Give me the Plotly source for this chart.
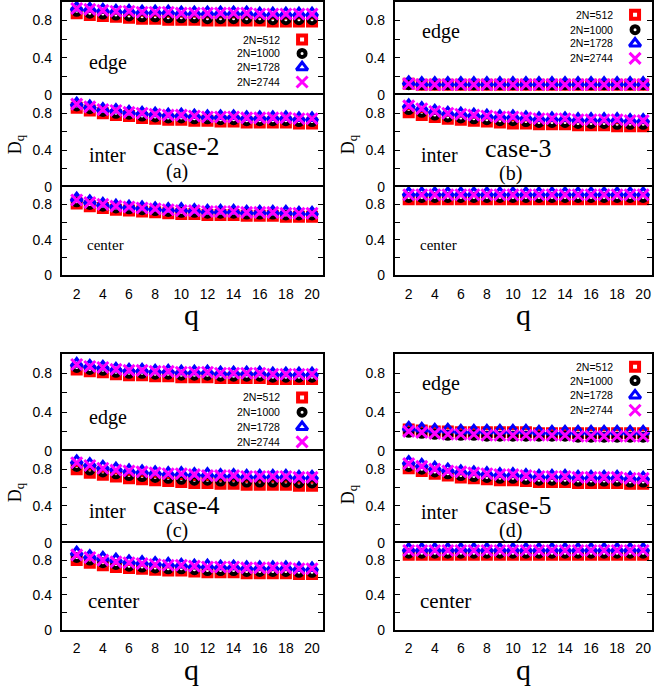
import plotly.graph_objects as go

W, H = 654, 696

# ---------------- data ----------------
q_values = list(range(2, 21))
size_labels = ["2N=512", "2N=1000", "2N=1728", "2N=2744"]
region_labels = ["edge", "inter", "center"]
case_labels = ["case-2", "case-3", "case-4", "case-5"]
panel_labels = ["(a)", "(b)", "(c)", "(d)"]
y_tickvals = [0, 0.2, 0.4, 0.6, 0.8]
y_ticktext = ["0", "", "0.4", "", "0.8"]
x_tickvals = [2, 4, 6, 8, 10, 12, 14, 16, 18, 20]

# case-2 (a)
case2_edge_512 = [0.88, 0.86, 0.85, 0.84, 0.83, 0.82, 0.82, 0.81, 0.81, 0.81, 0.80, 0.80, 0.80, 0.80, 0.80, 0.79, 0.79, 0.79, 0.79]
case2_edge_1000 = [0.90, 0.88, 0.87, 0.86, 0.85, 0.84, 0.84, 0.83, 0.83, 0.83, 0.82, 0.82, 0.82, 0.82, 0.82, 0.81, 0.81, 0.81, 0.81]
case2_edge_1728 = [0.94, 0.93, 0.92, 0.91, 0.91, 0.90, 0.90, 0.90, 0.89, 0.89, 0.89, 0.89, 0.89, 0.89, 0.88, 0.88, 0.88, 0.88, 0.88]
case2_edge_2744 = [0.93, 0.92, 0.91, 0.90, 0.90, 0.89, 0.89, 0.89, 0.88, 0.88, 0.88, 0.88, 0.88, 0.88, 0.87, 0.87, 0.87, 0.87, 0.87]
case2_inter_512 = [0.86, 0.83, 0.80, 0.78, 0.77, 0.75, 0.74, 0.73, 0.73, 0.72, 0.72, 0.71, 0.71, 0.70, 0.70, 0.70, 0.70, 0.69, 0.69]
case2_inter_1000 = [0.88, 0.85, 0.82, 0.80, 0.79, 0.77, 0.76, 0.75, 0.75, 0.74, 0.74, 0.73, 0.73, 0.72, 0.72, 0.72, 0.72, 0.71, 0.71]
case2_inter_1728 = [0.91, 0.88, 0.85, 0.84, 0.82, 0.81, 0.80, 0.79, 0.79, 0.78, 0.77, 0.77, 0.77, 0.76, 0.76, 0.76, 0.76, 0.75, 0.75]
case2_inter_2744 = [0.90, 0.87, 0.84, 0.83, 0.81, 0.80, 0.79, 0.78, 0.78, 0.77, 0.76, 0.76, 0.76, 0.75, 0.75, 0.75, 0.75, 0.74, 0.74]
case2_center_512 = [0.81, 0.78, 0.76, 0.74, 0.73, 0.72, 0.71, 0.70, 0.69, 0.69, 0.68, 0.68, 0.68, 0.67, 0.67, 0.67, 0.66, 0.66, 0.66]
case2_center_1000 = [0.83, 0.80, 0.78, 0.76, 0.75, 0.74, 0.73, 0.72, 0.71, 0.71, 0.70, 0.70, 0.70, 0.69, 0.69, 0.69, 0.68, 0.68, 0.68]
case2_center_1728 = [0.87, 0.84, 0.81, 0.79, 0.78, 0.77, 0.76, 0.75, 0.75, 0.74, 0.73, 0.73, 0.73, 0.72, 0.72, 0.72, 0.72, 0.71, 0.71]
case2_center_2744 = [0.85, 0.82, 0.80, 0.78, 0.77, 0.76, 0.75, 0.74, 0.73, 0.73, 0.72, 0.72, 0.72, 0.71, 0.71, 0.71, 0.70, 0.70, 0.70]

# case-3 (b)
case3_edge_512 = [0.12, 0.11, 0.11, 0.11, 0.11, 0.11, 0.11, 0.11, 0.11, 0.11, 0.11, 0.11, 0.11, 0.11, 0.11, 0.11, 0.11, 0.11, 0.11]
case3_edge_1000 = [0.11, 0.11, 0.11, 0.11, 0.11, 0.11, 0.11, 0.11, 0.11, 0.11, 0.11, 0.11, 0.11, 0.11, 0.11, 0.11, 0.11, 0.11, 0.11]
case3_edge_1728 = [0.14, 0.13, 0.13, 0.13, 0.13, 0.13, 0.13, 0.13, 0.13, 0.13, 0.13, 0.13, 0.13, 0.13, 0.13, 0.13, 0.13, 0.13, 0.13]
case3_edge_2744 = [0.12, 0.11, 0.11, 0.11, 0.11, 0.11, 0.11, 0.11, 0.11, 0.11, 0.11, 0.11, 0.11, 0.11, 0.11, 0.11, 0.11, 0.11, 0.11]
case3_inter_512 = [0.81, 0.78, 0.76, 0.74, 0.73, 0.72, 0.71, 0.70, 0.69, 0.69, 0.68, 0.68, 0.68, 0.67, 0.67, 0.67, 0.66, 0.66, 0.66]
case3_inter_1000 = [0.84, 0.81, 0.78, 0.76, 0.75, 0.74, 0.73, 0.72, 0.72, 0.71, 0.70, 0.70, 0.70, 0.69, 0.69, 0.69, 0.68, 0.68, 0.68]
case3_inter_1728 = [0.89, 0.86, 0.83, 0.81, 0.80, 0.79, 0.78, 0.77, 0.77, 0.76, 0.75, 0.75, 0.75, 0.74, 0.74, 0.74, 0.74, 0.73, 0.73]
case3_inter_2744 = [0.88, 0.85, 0.82, 0.80, 0.79, 0.78, 0.77, 0.76, 0.76, 0.75, 0.74, 0.74, 0.74, 0.73, 0.73, 0.73, 0.73, 0.72, 0.72]
case3_center_512 = [0.86] * 19
case3_center_1000 = [0.88] * 19
case3_center_1728 = [0.93] * 19
case3_center_2744 = [0.91] * 19

# case-4 (c)
case4_edge_512 = [0.84, 0.82, 0.81, 0.79, 0.78, 0.78, 0.77, 0.77, 0.76, 0.76, 0.76, 0.75, 0.75, 0.75, 0.75, 0.74, 0.74, 0.74, 0.74]
case4_edge_1000 = [0.86, 0.84, 0.83, 0.81, 0.80, 0.80, 0.79, 0.79, 0.78, 0.78, 0.78, 0.77, 0.77, 0.77, 0.77, 0.76, 0.76, 0.76, 0.76]
case4_edge_1728 = [0.90, 0.88, 0.87, 0.85, 0.84, 0.84, 0.83, 0.83, 0.82, 0.82, 0.82, 0.81, 0.81, 0.81, 0.81, 0.80, 0.80, 0.80, 0.80]
case4_edge_2744 = [0.89, 0.87, 0.86, 0.84, 0.83, 0.83, 0.82, 0.82, 0.81, 0.81, 0.81, 0.80, 0.80, 0.80, 0.80, 0.79, 0.79, 0.79, 0.79]
case4_inter_512 = [0.80, 0.76, 0.74, 0.72, 0.70, 0.69, 0.68, 0.67, 0.66, 0.65, 0.65, 0.64, 0.64, 0.63, 0.63, 0.63, 0.63, 0.62, 0.62]
case4_inter_1000 = [0.83, 0.79, 0.77, 0.75, 0.73, 0.72, 0.71, 0.70, 0.69, 0.68, 0.68, 0.67, 0.67, 0.66, 0.66, 0.66, 0.66, 0.65, 0.65]
case4_inter_1728 = [0.89, 0.86, 0.83, 0.81, 0.79, 0.78, 0.77, 0.76, 0.76, 0.75, 0.75, 0.74, 0.74, 0.73, 0.73, 0.73, 0.73, 0.72, 0.72]
case4_inter_2744 = [0.87, 0.84, 0.81, 0.79, 0.78, 0.77, 0.76, 0.75, 0.75, 0.74, 0.73, 0.73, 0.73, 0.72, 0.72, 0.72, 0.72, 0.71, 0.71]
case4_center_512 = [0.80, 0.77, 0.74, 0.72, 0.71, 0.70, 0.69, 0.68, 0.68, 0.67, 0.66, 0.66, 0.66, 0.65, 0.65, 0.65, 0.65, 0.64, 0.64]
case4_center_1000 = [0.83, 0.80, 0.77, 0.75, 0.73, 0.72, 0.71, 0.70, 0.70, 0.69, 0.68, 0.68, 0.68, 0.67, 0.67, 0.67, 0.67, 0.66, 0.66]
case4_center_1728 = [0.89, 0.85, 0.83, 0.81, 0.79, 0.78, 0.77, 0.76, 0.75, 0.74, 0.74, 0.73, 0.73, 0.72, 0.72, 0.72, 0.72, 0.71, 0.71]
case4_center_2744 = [0.86, 0.83, 0.80, 0.78, 0.77, 0.76, 0.75, 0.74, 0.74, 0.73, 0.72, 0.72, 0.72, 0.71, 0.71, 0.71, 0.71, 0.70, 0.70]

# case-5 (d)
case5_edge_512 = [0.22, 0.21, 0.20, 0.20, 0.19, 0.19, 0.19, 0.19, 0.19, 0.19, 0.18, 0.18, 0.18, 0.18, 0.18, 0.18, 0.18, 0.18, 0.18]
case5_edge_1000 = [0.19, 0.18, 0.17, 0.16, 0.16, 0.16, 0.15, 0.15, 0.15, 0.15, 0.15, 0.15, 0.15, 0.14, 0.14, 0.14, 0.14, 0.14, 0.14]
case5_edge_1728 = [0.24, 0.23, 0.22, 0.22, 0.21, 0.21, 0.21, 0.21, 0.21, 0.21, 0.20, 0.20, 0.20, 0.20, 0.20, 0.20, 0.20, 0.20, 0.20]
case5_edge_2744 = [0.20, 0.19, 0.18, 0.17, 0.17, 0.17, 0.16, 0.16, 0.16, 0.16, 0.16, 0.16, 0.16, 0.15, 0.15, 0.15, 0.15, 0.15, 0.15]
case5_inter_512 = [0.81, 0.78, 0.75, 0.73, 0.71, 0.70, 0.69, 0.68, 0.68, 0.67, 0.66, 0.66, 0.66, 0.65, 0.65, 0.65, 0.65, 0.64, 0.64]
case5_inter_1000 = [0.83, 0.80, 0.77, 0.75, 0.73, 0.72, 0.71, 0.70, 0.70, 0.69, 0.68, 0.68, 0.68, 0.67, 0.67, 0.67, 0.67, 0.66, 0.66]
case5_inter_1728 = [0.88, 0.85, 0.82, 0.80, 0.78, 0.77, 0.76, 0.75, 0.75, 0.74, 0.73, 0.73, 0.73, 0.72, 0.72, 0.72, 0.72, 0.71, 0.71]
case5_inter_2744 = [0.86, 0.83, 0.80, 0.78, 0.77, 0.76, 0.75, 0.74, 0.74, 0.73, 0.72, 0.72, 0.72, 0.71, 0.71, 0.71, 0.71, 0.70, 0.70]
case5_center_512 = [0.86] * 19
case5_center_1000 = [0.88] * 19
case5_center_1728 = [0.93] * 19
case5_center_2744 = [0.91] * 19

panels_data = [
    [[case2_edge_512, case2_edge_1000, case2_edge_1728, case2_edge_2744],
     [case2_inter_512, case2_inter_1000, case2_inter_1728, case2_inter_2744],
     [case2_center_512, case2_center_1000, case2_center_1728, case2_center_2744]],
    [[case3_edge_512, case3_edge_1000, case3_edge_1728, case3_edge_2744],
     [case3_inter_512, case3_inter_1000, case3_inter_1728, case3_inter_2744],
     [case3_center_512, case3_center_1000, case3_center_1728, case3_center_2744]],
    [[case4_edge_512, case4_edge_1000, case4_edge_1728, case4_edge_2744],
     [case4_inter_512, case4_inter_1000, case4_inter_1728, case4_inter_2744],
     [case4_center_512, case4_center_1000, case4_center_1728, case4_center_2744]],
    [[case5_edge_512, case5_edge_1000, case5_edge_1728, case5_edge_2744],
     [case5_inter_512, case5_inter_1000, case5_inter_1728, case5_inter_2744],
     [case5_center_512, case5_center_1000, case5_center_1728, case5_center_2744]],
]

# ---------------- styles / layout ----------------
SERIF = "Liberation Serif, Times New Roman, serif"
SANS = "Liberation Sans, Arial, sans-serif"

marker_styles = [
    dict(symbol="square-open", size=8, color="#ff0000", line=dict(width=4, color="#ff0000")),
    dict(symbol="circle-open", size=7, color="#000000", line=dict(width=4, color="#000000")),
    dict(symbol="triangle-up-open", size=10, color="#0000ff", line=dict(width=3, color="#0000ff")),
    dict(symbol="x-thin-open", size=11, color="#ff00ff", line=dict(width=3, color="#ff00ff")),
]

panel_px = [
    (62, 324, [(2, 96), (96, 189), (189, 278)]),
    (396, 654, [(2, 96), (96, 189), (189, 278)]),
    (62, 324, [(358, 456), (456, 549), (549, 637)]),
    (396, 654, [(358, 456), (456, 549), (549, 637)]),
]
x_ranges = [[0.86, 20.84], [0.93, 20.68], [0.86, 20.84], [0.93, 20.68]]


def px_x(v):
    return v / W


def px_y(v):
    return 1 - v / H


fig = go.Figure()
layout = dict(
    width=W, height=H,
    margin=dict(l=0, r=0, t=0, b=0),
    paper_bgcolor="white", plot_bgcolor="rgba(0,0,0,0)",
    showlegend=False,
)

k = 0
for p in range(4):
    left, right, rows = panel_px[p]
    for r in range(3):
        k += 1
        top, bot = rows[r]
        xn = "xaxis" if k == 1 else f"xaxis{k}"
        yn = "yaxis" if k == 1 else f"yaxis{k}"
        xref = "x" if k == 1 else f"x{k}"
        yref = "y" if k == 1 else f"y{k}"
        is_bottom = (r == 2)
        layout[xn] = dict(
            domain=[px_x(left), px_x(right)], anchor=yref, range=x_ranges[p],
            side="bottom" if is_bottom else "top",
            showline=True, linecolor="black", linewidth=2, mirror=is_bottom,
            showgrid=False, zeroline=False, ticks="",
            tickvals=x_tickvals, showticklabels=is_bottom,
            tickfont=dict(family=SANS, size=14, color="black"),
            ticklabelstandoff=5,
        )
        layout[yn] = dict(
            domain=[px_y(bot), px_y(top)], anchor=xref, range=[0, 1.0],
            showline=True, linecolor="black", linewidth=2, mirror="ticks",
            showgrid=False, zeroline=False, ticks="inside", ticklen=5, tickwidth=1,
            tickcolor="black", tickvals=y_tickvals, ticktext=y_ticktext,
            tickfont=dict(family=SANS, size=14, color="black"),
            ticklabelstandoff=5,
        )
        for s in range(4):
            fig.add_trace(go.Scatter(
                x=q_values, y=panels_data[p][r][s], mode="markers",
                marker=marker_styles[s], xaxis=xref, yaxis=yref,
                cliponaxis=False, name=size_labels[s], hoverinfo="skip",
            ))

# overlay axis for legend keys (pixel coordinates)
layout["xaxis13"] = dict(domain=[0, 1], range=[0, W], visible=False, anchor="y13")
layout["yaxis13"] = dict(domain=[0, 1], range=[H, 0], visible=False, anchor="x13")

legend_px = [
    (283, 303, [40, 54, 68, 83]),
    (617, 637, [15, 30, 44, 59]),
    (283, 303, [402, 417, 432, 447]),
    (617, 637, [371, 385, 400, 415]),
]
annotations = []
for p in range(4):
    tx, mx, ys = legend_px[p]
    for s in range(4):
        fig.add_trace(go.Scatter(
            x=[mx], y=[ys[s]], mode="markers", marker=marker_styles[s],
            xaxis="x13", yaxis="y13", cliponaxis=False, hoverinfo="skip",
        ))
        annotations.append(dict(
            x=px_x(tx), y=px_y(ys[s]), xref="paper", yref="paper",
            text=size_labels[s], showarrow=False, xanchor="right", yanchor="middle",
            font=dict(family=SANS, size=10.5, color="black"),
        ))

region_px = [
    [(108, 63, 20), (108, 157, 20), (106, 248, 15)],
    [(442, 32, 20), (441, 157, 20), (440, 248, 15)],
    [(108, 422, 20), (108, 517, 20), (114, 608, 21)],
    [(442, 388, 20), (441, 518, 20), (447, 608, 21)],
]
case_px = [(187, 148), (520, 150), (187, 511), (520, 511)]
label_px = [(178, 173), (512, 176), (178, 537), (512, 537)]
dq_px = [(16, 146), (350, 146), (16, 498), (350, 500)]
qlab_px = [(192, 318), (525, 318), (192, 677), (525, 677)]

for p in range(4):
    for r in range(3):
        x0, y0, fs = region_px[p][r]
        annotations.append(dict(
            x=px_x(x0), y=px_y(y0), xref="paper", yref="paper", text=region_labels[r],
            showarrow=False, xanchor="center", yanchor="middle",
            font=dict(family=SERIF, size=fs, color="black"),
        ))
    cx, cy = case_px[p]
    annotations.append(dict(
        x=px_x(cx), y=px_y(cy), xref="paper", yref="paper", text=case_labels[p],
        showarrow=False, xanchor="center", yanchor="middle",
        font=dict(family=SERIF, size=26, color="black"),
    ))
    lx, ly = label_px[p]
    annotations.append(dict(
        x=px_x(lx), y=px_y(ly), xref="paper", yref="paper", text=panel_labels[p],
        showarrow=False, xanchor="center", yanchor="middle",
        font=dict(family=SERIF, size=20, color="black"),
    ))
    dx, dy = dq_px[p]
    annotations.append(dict(
        x=px_x(dx), y=px_y(dy), xref="paper", yref="paper", text="D<sub>q</sub>",
        showarrow=False, xanchor="center", yanchor="middle", textangle=-90,
        font=dict(family=SERIF, size=18, color="black"),
    ))
    qx, qy = qlab_px[p]
    annotations.append(dict(
        x=px_x(qx), y=px_y(qy), xref="paper", yref="paper", text="q",
        showarrow=False, xanchor="center", yanchor="middle",
        font=dict(family=SERIF, size=30, color="black"),
    ))

layout["annotations"] = annotations
fig.update_layout(**layout)
fig.write_html("out.html", config={"displayModeBar": False},
               post_script="document.body.style.margin='0';")
